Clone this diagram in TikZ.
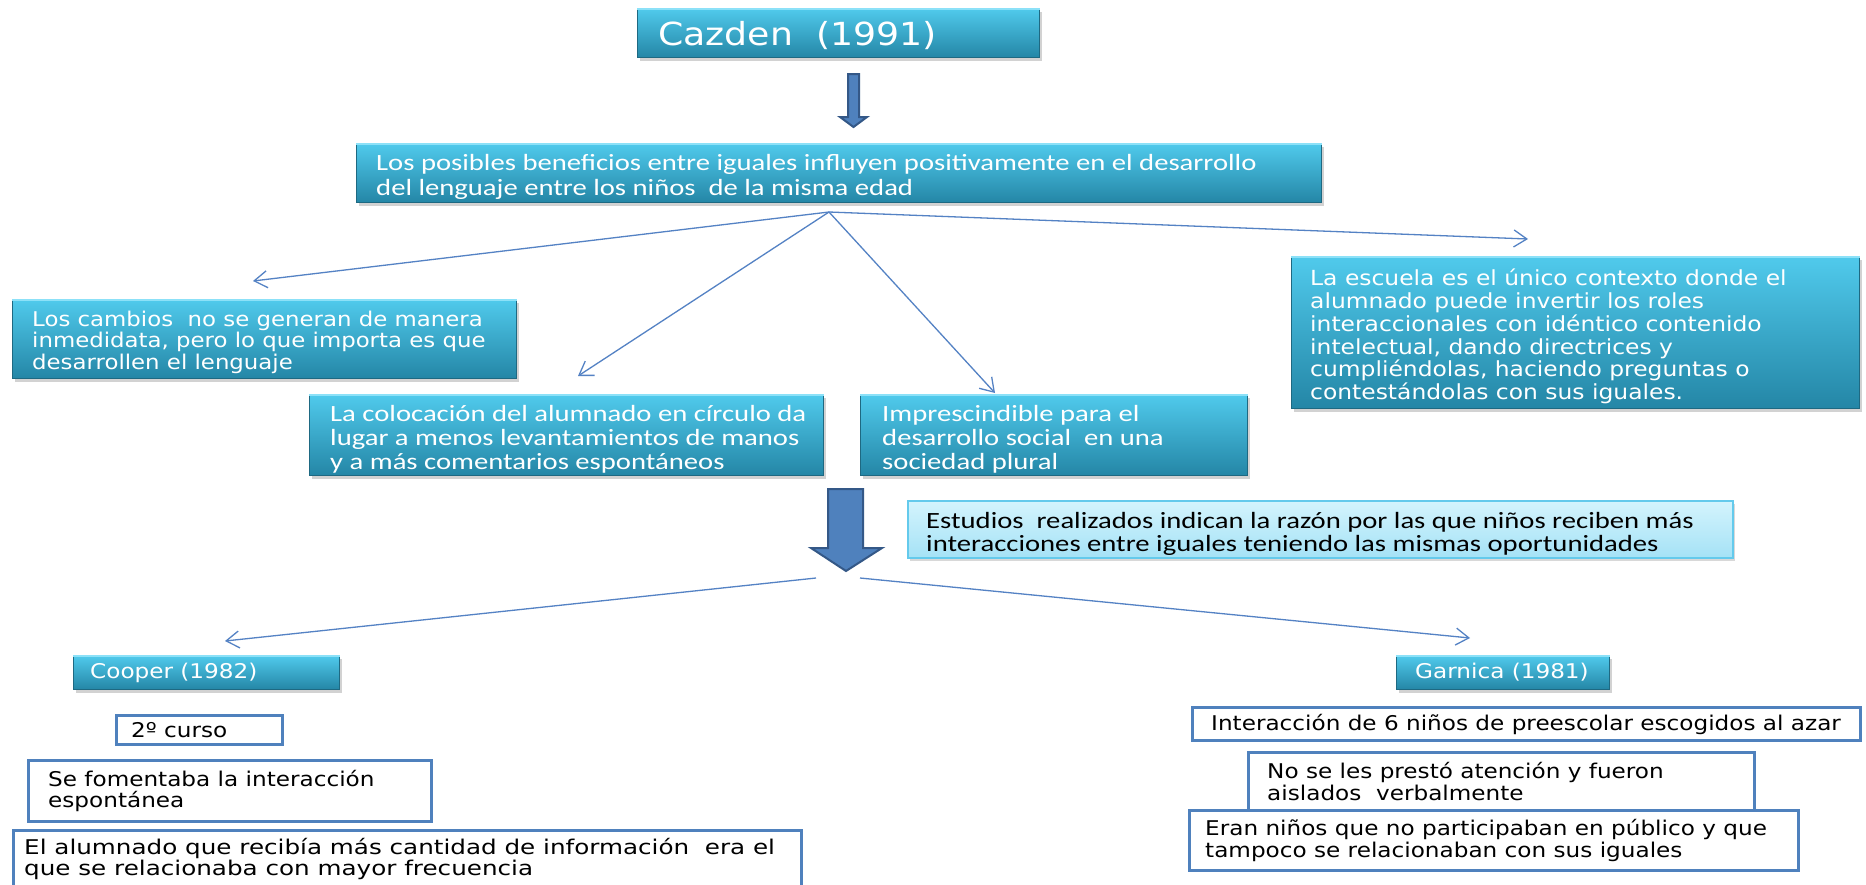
\documentclass[tikz,border=0pt]{standalone}
\usepackage{fontspec}
\usetikzlibrary{arrows.meta,shadows,calc}
\newfontfamily\verd[FakeStretch=1.14]{DejaVu Sans}
\newfontfamily\verdn[FakeStretch=1.125]{DejaVu Sans}
\newfontfamily\verdx[FakeStretch=1.213]{DejaVu Sans}
\newfontfamily\cali[FakeStretch=1.23]{Carlito}
\definecolor{tealtop}{RGB}{80,202,236}
\definecolor{tealbot}{RGB}{36,134,166}
\definecolor{tealedge}{RGB}{30,105,130}
\definecolor{tealhi}{RGB}{140,225,248}
\definecolor{paletop}{RGB}{212,244,253}
\definecolor{palebot}{RGB}{165,226,246}
\definecolor{paleedge}{RGB}{100,202,236}
\definecolor{framecol}{RGB}{79,129,189}
\definecolor{linkcol}{RGB}{84,130,196}
\definecolor{blockfill}{RGB}{79,129,189}
\definecolor{blockedge}{RGB}{52,88,135}
\tikzset{
  tealbox/.style={rectangle, inner sep=0pt, anchor=north west,
    top color=tealtop, bottom color=tealbot, draw=tealedge, line width=1pt,
    drop shadow={shadow xshift=2pt, shadow yshift=-3pt, opacity=0.35}},
  palebox/.style={rectangle, inner sep=0pt, anchor=north west,
    top color=paletop, bottom color=palebot, draw=paleedge, line width=1.5pt,
    drop shadow={shadow xshift=2pt, shadow yshift=-3pt, opacity=0.3}},
  framebox/.style={rectangle, inner sep=0pt, anchor=north west,
    fill=white, draw=framecol, line width=3pt},
  wtxt/.style={inner sep=0pt, align=left, text=white, anchor=west},
  ktxt/.style={inner sep=0pt, align=left, text=black, anchor=west},
  vfont/.style={font=\verd\fontsize{20.3}{21.5}\selectfont},
  cfont/.style={font=\cali\fontsize{23.3}{24}\selectfont},
  link/.style={draw=linkcol, line width=1.3pt, -{Straight Barb[length=13pt,width=17pt]}},
  block/.style={fill=blockfill, draw=blockedge, line width=2pt, line join=miter},
}
\newcommand{\tealbevel}[1]{%
  \draw[tealhi, line width=1.5pt] ([yshift=-1.2pt]#1.north west) -- ([yshift=-1.2pt]#1.north east);}
\begin{document}
\begin{tikzpicture}[x=1pt, y=-1pt]
\useasboundingbox (0,0) rectangle (1866,884);
\clip (0,0) rectangle (1866,884);
\fill[white] (0,0) rectangle (1866,884);

% title
\node[tealbox, minimum width=402pt, minimum height=49pt] (cazden) at (637,8) {};
\tealbevel{cazden}
\node[wtxt, font=\verd\fontsize{31.8}{34}\selectfont] (cazdenT) at ($(cazden.west)+(21,3)$) {Cazden\ \ (1991)};

% small block arrow
\draw[block] (848,74) -- (859,74) -- (859,117) -- (867,117) -- (853.5,127) -- (840,117) -- (848,117) -- cycle;

% main statement
\node[tealbox, minimum width=965pt, minimum height=59pt] (benef) at (356,143) {};
\tealbevel{benef}
\node[wtxt, font=\cali\fontsize{23.3}{25}\selectfont] (benefT) at ($(benef.west)+(20,3.5)$)
  {Los posibles beneficios entre iguales influyen positivamente en el desarrollo\\del lenguaje entre los niños\ \ de la misma edad};

% fan of connectors
\coordinate (fan) at (829,212);
\coordinate (tipA) at (253,281);
\coordinate (tipB) at (578,376);
\coordinate (tipC) at (995,393);
\coordinate (tipD) at (1528,239);
\draw[link] (fan) -- (tipA);
\draw[link] (fan) -- (tipB);
\draw[link] (fan) -- (tipC);
\draw[link] (fan) -- (tipD);

% second row
\node[tealbox, minimum width=504pt, minimum height=79pt] (cambios) at (12,299) {};
\tealbevel{cambios}
\node[wtxt, font=\verdn\fontsize{20.3}{21.5}\selectfont] (cambiosT) at ($(cambios.west)+(20,3)$)
  {Los cambios\ \ no se generan de manera\\inmedidata, pero lo que importa es que\\desarrollen el lenguaje};

\node[tealbox, minimum width=514pt, minimum height=81pt] (coloc) at (309,394) {};
\tealbevel{coloc}
\node[wtxt, cfont] (colocT) at ($(coloc.west)+(21,4)$)
  {La colocación del alumnado en círculo da\\lugar a menos levantamientos de manos\\y a más comentarios espontáneos};

\node[tealbox, minimum width=387pt, minimum height=81pt] (impresc) at (860,394) {};
\tealbevel{impresc}
\node[wtxt, cfont] (imprescT) at ($(impresc.west)+(22,4)$)
  {Imprescindible para el\\desarrollo social\ \ en una\\sociedad plural};

\node[tealbox, minimum width=568pt, minimum height=152pt] (escuela) at (1291,256) {};
\tealbevel{escuela}
\node[wtxt, font=\verdn\fontsize{20.8}{22.8}\selectfont] (escuelaT) at ($(escuela.west)+(19,4)$)
  {La escuela es el único contexto donde el\\alumnado puede invertir los roles\\interaccionales con idéntico contenido\\intelectual, dando directrices y\\cumpliéndolas, haciendo preguntas o\\contestándolas con sus iguales.};

% second block arrow and note
\draw[block] (828,489) -- (863,489) -- (863,548) -- (882,548) -- (846,571) -- (811,548) -- (828,548) -- cycle;

\node[palebox, minimum width=825pt, minimum height=57pt] (estudios) at (907,500) {};
\node[ktxt, font=\cali\fontsize{23.3}{23}\selectfont] (estudiosT) at ($(estudios.west)+(19,4.5)$)
  {Estudios\ \ realizados indican la razón por las que niños reciben más\\interacciones entre iguales teniendo las mismas oportunidades};

\coordinate (lowL) at (816,578);
\coordinate (lowR) at (860,578);
\coordinate (tipE) at (225,641);
\coordinate (tipF) at (1470,638);
\draw[link] (lowL) -- (tipE);
\draw[link] (lowR) -- (tipF);

% Cooper column
\node[tealbox, minimum width=266pt, minimum height=34pt] (cooper) at (73,655) {};
\tealbevel{cooper}
\node[wtxt, vfont] (cooperT) at ($(cooper.west)+(17,0)$) {Cooper (1982)};

\node[framebox, minimum width=166pt, minimum height=29pt] (curso) at (115,714) {};
\node[ktxt, vfont] (cursoT) at ($(curso.west)+(16,0)$) {2º curso};

\node[framebox, minimum width=403pt, minimum height=61pt] (fomenta) at (27,759) {};
\node[ktxt, vfont] (fomentaT) at ($(fomenta.west)+(21,0)$) {Se fomentaba la interacción\\espontánea};

\node[framebox, minimum width=788pt, minimum height=84pt] (alumnado) at (12,829) {};
\node[ktxt, font=\verdx\fontsize{20.3}{21.5}\selectfont, anchor=north west] (alumnadoT) at ($(alumnado.north west)+(12,9)$)
  {El alumnado que recibía más cantidad de información\ \ era el\\que se relacionaba con mayor frecuencia};

% Garnica column
\node[tealbox, minimum width=213pt, minimum height=34pt] (garnica) at (1396,655) {};
\tealbevel{garnica}
\node[wtxt, vfont] (garnicaT) at ($(garnica.west)+(19,0)$) {Garnica (1981)};

\node[framebox, minimum width=668pt, minimum height=33pt] (azar) at (1191,706) {};
\node[ktxt, vfont] (azarT) at ($(azar.west)+(20,0)$) {Interacción de 6 niños de preescolar escogidos al azar};

\node[framebox, minimum width=506pt, minimum height=58pt] (aislados) at (1247,751) {};
\node[ktxt, vfont] (aisladosT) at ($(aislados.west)+(20,0)$) {No se les prestó atención y fueron\\aislados\ \ verbalmente};

\node[framebox, minimum width=609pt, minimum height=60pt] (publico) at (1188,809) {};
\node[ktxt, vfont] (publicoT) at ($(publico.west)+(17,0)$) {Eran niños que no participaban en público y que\\tampoco se relacionaban con sus iguales};
\end{tikzpicture}
\end{document}
